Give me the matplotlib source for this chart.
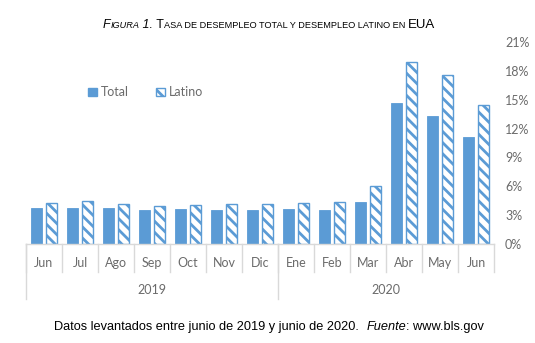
import matplotlib
matplotlib.use('Agg')
import matplotlib.pyplot as plt
import matplotlib.transforms as mtransforms
from matplotlib.offsetbox import TextArea, HPacker, AnchoredOffsetbox
from matplotlib.patches import Patch
import numpy as np

months = ['Jun', 'Jul', 'Ago', 'Sep', 'Oct', 'Nov', 'Dic',
          'Ene', 'Feb', 'Mar', 'Abr', 'May', 'Jun']
years = ['2019', '2020']
year_spans = [(0, 7), (7, 13)]
total = [3.7, 3.7, 3.7, 3.5, 3.6, 3.5, 3.5, 3.6, 3.5, 4.4, 14.7, 13.3, 11.1]
latino = [4.3, 4.5, 4.2, 3.9, 4.1, 4.2, 4.2, 4.3, 4.4, 6.0, 18.9, 17.6, 14.5]
y_ticks = [0, 3, 6, 9, 12, 15, 18, 21]

BLUE = '#5B9BD5'
GRAY = '#6B6B6B'
LINE = '#D9D9D9'
AX_FONT = 'Lato'
TXT_FONT = 'Liberation Sans'

plt.rcParams['hatch.color'] = BLUE
plt.rcParams['hatch.linewidth'] = 2.0

fig = plt.figure(figsize=(5.35, 3.43), dpi=100)
ax = fig.add_axes([26 / 535, 99 / 343, 468 / 535, 202 / 343])

x = np.arange(len(months)) + 0.5
w = 0.31
ax.bar(x - 0.2, total, width=w, color=BLUE, edgecolor=BLUE, linewidth=0.6)
ax.bar(x + 0.2, latino, width=w, color='white', edgecolor=BLUE,
       linewidth=1.0, hatch='\\\\\\')

ax.set_xlim(0, len(months))
ax.set_ylim(0, 21)
ax.set_xticks([])
ax.yaxis.tick_right()
ax.set_yticks(y_ticks)
ax.set_yticklabels([f'{v}%' for v in y_ticks], color=GRAY,
                   fontsize=9, family=AX_FONT)
ax.tick_params(axis='y', length=0, pad=8)
for s in ax.spines.values():
    s.set_visible(False)

# category axis drawn by hand, Excel style two-row boxes
trans = mtransforms.blended_transform_factory(ax.transData, ax.transAxes)
ax.plot([0, len(months)], [0, 0], color=LINE, lw=1, transform=trans, clip_on=False)
for i in range(len(months) + 1):
    ax.plot([i, i], [0, -0.139], color=LINE, lw=1, transform=trans, clip_on=False)
for i in (0, 7):
    ax.plot([i, i], [0, -0.272], color=LINE, lw=1, transform=trans, clip_on=False)
for xi, m in zip(x, months):
    ax.text(xi, -0.094, m, transform=trans, ha='center', va='center',
            fontsize=9, color=GRAY, family=AX_FONT)
for (a, b), yr in zip(year_spans, years):
    ax.text((a + b) / 2, -0.228, yr, transform=trans, ha='center', va='center',
            fontsize=9, color=GRAY, family=AX_FONT)

handles = [Patch(facecolor=BLUE, edgecolor=BLUE),
           Patch(facecolor='white', edgecolor=BLUE, hatch='\\\\\\')]
ax.legend(handles, ['Total', 'Latino'], loc='center', bbox_to_anchor=(0.255, 0.75),
          ncol=2, frameon=False, handlelength=0.7, handleheight=0.7,
          handletextpad=0.3, columnspacing=2.2,
          prop={'family': AX_FONT, 'size': 9}, labelcolor=GRAY)


def text_runs(runs, xy):
    boxes = [TextArea(s, textprops=dict(family=TXT_FONT, size=sz, style=st, color='black'))
             for s, sz, st in runs]
    pack = HPacker(children=boxes, align='baseline', pad=0, sep=0)
    box = AnchoredOffsetbox(loc='center', child=pack, pad=0, frameon=False,
                            bbox_to_anchor=xy, bbox_transform=fig.transFigure,
                            borderpad=0)
    fig.add_artist(box)


text_runs([('F', 9, 'italic'), ('IGURA', 6.6, 'italic'), (' 1.', 9, 'italic'),
           (' T', 9, 'normal'),
           ('ASA DE DESEMPLEO TOTAL Y DESEMPLEO LATINO EN ', 6.6, 'normal'),
           ('EUA', 9.5, 'normal')], (269 / 535, 1 - 25 / 343))

text_runs([('Datos levantados entre junio de 2019 y junio de 2020.  ', 9.2, 'normal'),
           ('Fuente', 9.2, 'italic'), (': www.bls.gov', 9.2, 'normal')],
          (269 / 535, 1 - 327 / 343))

fig.savefig('out.png', dpi=100)
